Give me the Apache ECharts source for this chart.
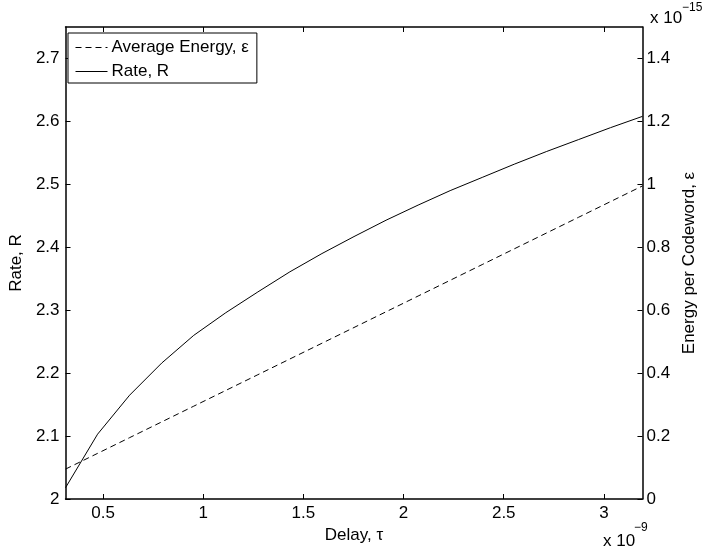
<!DOCTYPE html>
<html><head><meta charset="utf-8">
<script src="https://cdn.jsdelivr.net/npm/echarts@6/dist/echarts.min.js"></script>
<style>html,body{margin:0;padding:0;background:#fff}#c{width:706px;height:556px}</style>
</head><body><div id="c"></div>
<script>
// Delay tau (units of 1e-9)
const delay = [0.3125, 0.4725, 0.6325, 0.7925, 0.9525, 1.1125, 1.2725, 1.4325, 1.5925, 1.7525,
               1.9125, 2.0725, 2.2325, 2.3925, 2.5525, 2.7125, 2.8725, 3.0325, 3.1925];
// Rate R
const rate = [2.018, 2.103, 2.165, 2.216, 2.260, 2.296, 2.329, 2.361, 2.390, 2.417,
              2.443, 2.467, 2.490, 2.511, 2.532, 2.552, 2.571, 2.590, 2.608];
// Energy per codeword (units of 1e-15)
const energy = [0.095, 0.145, 0.195, 0.245, 0.295, 0.345, 0.395, 0.445, 0.495, 0.545,
                0.595, 0.645, 0.695, 0.745, 0.795, 0.845, 0.895, 0.945, 0.995];
const xTicks = [0.5, 1, 1.5, 2, 2.5, 3];
const rateTicks = [2, 2.1, 2.2, 2.3, 2.4, 2.5, 2.6, 2.7];
const energyTicks = [0, 0.2, 0.4, 0.6, 0.8, 1, 1.2, 1.4];
const names = { energy: 'Average Energy, ε', rate: 'Rate, R' };

const FONT = 'Liberation Sans, Arial, Helvetica, sans-serif';
const chart = echarts.init(document.getElementById('c'));
const axisLine = { show: true, lineStyle: { color: '#000', width: 1.5 } };
const tick = (vals) => ({ show: true, inside: true, length: 5, customValues: vals, lineStyle: { color: '#000', width: 1 } });
const lbl = (vals, margin) => ({ show: true, customValues: vals, color: '#000', fontSize: 17, fontFamily: FONT, margin: margin });

chart.setOption({
  animation: false,
  backgroundColor: '#fff',
  grid: { left: 63, right: 56, top: 27, bottom: 57, containLabel: false },
  legend: {
    orient: 'vertical', left: 68, top: 33,
    padding: [6, 8, 3, 7], itemGap: 7, itemWidth: 32, itemHeight: 14,
    borderColor: '#000', borderWidth: 1, backgroundColor: '#fff',
    itemStyle: { opacity: 0, borderWidth: 0 },
    lineStyle: { width: 1, color: '#000' },
    textStyle: { color: '#000', fontSize: 17, fontFamily: FONT, padding: [0, 0, 0, -1] },
    data: [names.energy, names.rate]
  },
  xAxis: [
    { type: 'value', position: 'bottom', min: delay[0], max: delay[delay.length - 1],
      axisLine: axisLine, axisTick: tick(xTicks), axisLabel: lbl(xTicks, 6), splitLine: { show: false },
      name: 'Delay, τ', nameLocation: 'middle', nameGap: 26,
      nameTextStyle: { color: '#000', fontSize: 17, fontFamily: FONT } },
    { type: 'value', position: 'top', min: delay[0], max: delay[delay.length - 1],
      axisLine: axisLine, axisTick: tick(xTicks), axisLabel: { show: false }, splitLine: { show: false } }
  ],
  yAxis: [
    { type: 'value', position: 'left', min: 2, max: 2.75,
      axisLine: axisLine, axisTick: tick(rateTicks), axisLabel: lbl(rateTicks, 6), splitLine: { show: false },
      name: 'Rate, R', nameLocation: 'middle', nameGap: 34, nameRotate: 90,
      nameTextStyle: { color: '#000', fontSize: 17, fontFamily: FONT } },
    { type: 'value', position: 'right', min: 0, max: 1.5,
      axisLine: axisLine, axisTick: tick(energyTicks), axisLabel: lbl(energyTicks, 4), splitLine: { show: false },
      name: 'Energy per Codeword, ε', nameLocation: 'middle', nameGap: 32, nameRotate: 90,
      nameTextStyle: { color: '#000', fontSize: 17, fontFamily: FONT } }
  ],
  series: [
    { name: names.energy, type: 'line', xAxisIndex: 0, yAxisIndex: 1, symbol: 'none',
      itemStyle: { color: '#000' },
      lineStyle: { color: '#000', width: 1, type: [6, 4] },
      data: delay.map((d, i) => [d, energy[i]]) },
    { name: names.rate, type: 'line', xAxisIndex: 0, yAxisIndex: 0, symbol: 'none',
      itemStyle: { color: '#000' },
      lineStyle: { color: '#000', width: 1, type: 'solid' },
      data: delay.map((d, i) => [d, rate[i]]) }
  ],
  graphic: [
    { type: 'text', left: 650, top: 10, style: { text: 'x 10', fontSize: 17, fontFamily: FONT, fill: '#000' } },
    { type: 'text', left: 682, top: 2, style: { text: '−15', fontSize: 12, fontFamily: FONT, fill: '#000' } },
    { type: 'text', left: 603, top: 533, style: { text: 'x 10', fontSize: 17, fontFamily: FONT, fill: '#000' } },
    { type: 'text', left: 634, top: 522, style: { text: '−9', fontSize: 12, fontFamily: FONT, fill: '#000' } }
  ]
});
</script></body></html>
